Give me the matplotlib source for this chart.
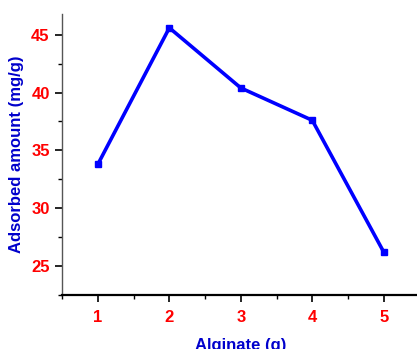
import matplotlib
matplotlib.use("Agg")
import matplotlib.pyplot as plt
from matplotlib.ticker import MultipleLocator

plt.rcParams["font.family"] = ["Liberation Sans", "DejaVu Sans"]

# alginate dose vs adsorbed amount
alginate = [1, 2, 3, 4, 5]
adsorbed = [33.8, 45.6, 40.4, 37.6, 26.2]

fig = plt.figure(figsize=(4.17, 3.49), dpi=100)
ax = fig.add_axes([0.149, 0.155, 0.857, 0.805])

ax.plot(alginate, adsorbed, color="#0000ff", lw=2.6, marker="s", ms=4)

ax.set_xlim(0.5, 5.5)
ax.set_ylim(22.5, 46.8)
ax.xaxis.set_major_locator(MultipleLocator(1))
ax.xaxis.set_minor_locator(MultipleLocator(0.5))
ax.yaxis.set_major_locator(MultipleLocator(5))
ax.yaxis.set_minor_locator(MultipleLocator(2.5))

for s in ["top", "right"]:
    ax.spines[s].set_visible(False)
ax.spines["left"].set_color("#555555")
ax.spines["left"].set_linewidth(1.0)
ax.spines["bottom"].set_linewidth(1.6)

ax.tick_params(which="major", length=5, width=1.2, direction="out")
ax.tick_params(which="minor", length=3, width=1.0, direction="out")
ax.tick_params(axis="both", labelsize=12, labelcolor="#ff0000")
for lab in ax.get_xticklabels() + ax.get_yticklabels():
    lab.set_fontweight("bold")
ax.tick_params(axis="x", pad=6)
ax.tick_params(axis="y", pad=4)

ax.set_xlabel("Alginate (g)", color="#0000cc", fontsize=12, fontweight="bold", labelpad=9)
ax.set_ylabel("Adsorbed amount (mg/g)", color="#0000cc", fontsize=12, fontweight="bold", labelpad=5)

fig.savefig("out.png", dpi=100)
